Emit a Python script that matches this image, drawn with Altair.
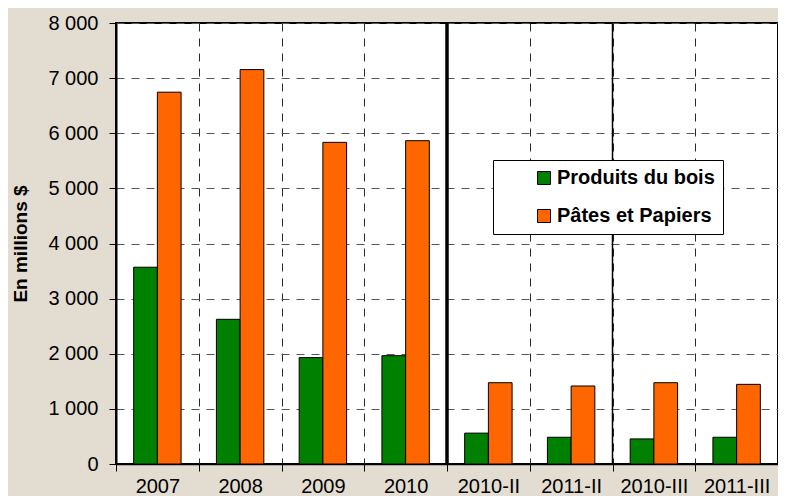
import altair as alt
import pandas as pd

categories = ["2007", "2008", "2009", "2010", "2010-II", "2011-II", "2010-III", "2011-III"]
series = ["Produits du bois", "Pâtes et Papiers"]
bois = [3570, 2625, 1930, 1965, 560, 485, 455, 485]
papiers = [6745, 7155, 5835, 5865, 1475, 1415, 1475, 1445]
colors = ["#008000", "#FF6600"]
y_ticks = [0, 1000, 2000, 3000, 4000, 5000, 6000, 7000, 8000]
separators = ["2010-II", "2010-III"]
separator_widths = [3.5, 1.5]

rows = []
for i, c in enumerate(categories):
    rows.append({"cat": c, "serie": series[0], "val": bois[i]})
    rows.append({"cat": c, "serie": series[1], "val": papiers[i]})
df = pd.DataFrame(rows)
sep_df = pd.DataFrame({"cat": separators, "w": separator_widths})

FONT = "Liberation Sans"
W = 662

x_scale = alt.Scale(domain=categories, paddingInner=0, paddingOuter=0)

bars = alt.Chart(df).mark_bar(stroke="black", strokeWidth=1).encode(
    x=alt.X("cat:N", scale=x_scale, sort=categories, title=None,
            axis=alt.Axis(tickBand="extent", labelAngle=0, grid=True,
                          gridDash=[8, 7], gridColor="#2a2a2a", gridWidth=1,
                          domainColor="black", domainWidth=1.5,
                          tickColor="black", tickSize=7, tickWidth=1,
                          labelAlign="center",
                          labelFlush=False, labelBound=False, labelOverlap=False,
                          labelFont=FONT, labelFontSize=20, labelColor="black",
                          labelPadding=15)),
    xOffset=alt.XOffset("serie:N", sort=series,
                        scale=alt.Scale(domain=series, paddingInner=0, paddingOuter=0.745)),
    y=alt.Y("val:Q", title="En millions $",
            scale=alt.Scale(domain=[0, 8000], nice=False),
            axis=alt.Axis(values=y_ticks, grid=True, gridDash=[8, 7],
                          gridColor="#555555", gridWidth=1,
                          domainColor="black", domainWidth=2,
                          tickColor="black", tickSize=7, tickWidth=1,
                          labelFont=FONT, labelFontSize=20, labelColor="black",
                          labelPadding=11,
                          labelExpr="replace(format(datum.value, ','), ',', ' ')",
                          titleFont=FONT, titleFontSize=19, titleFontWeight="bold",
                          titleColor="black", titlePadding=17)),
    color=alt.Color("serie:N", sort=series,
                    scale=alt.Scale(domain=series, range=colors),
                    legend=alt.Legend(title=".", titleOrient="right", titleColor="white",
                                      titleFont=FONT, titleFontSize=14, titlePadding=-8,
                                      orient="none", legendX=377, legendY=137,
                                      fillColor="white", strokeColor="black",
                                      padding=8, rowPadding=18,
                                      symbolType="square", symbolSize=169,
                                      symbolStrokeColor="black", symbolStrokeWidth=1,
                                      symbolOffset=33, labelOffset=3,
                                      labelFont=FONT, labelFontSize=20,
                                      labelFontWeight="bold", labelColor="black")),
)

seps = alt.Chart(sep_df).mark_rule(color="black").encode(
    x=alt.X("cat:N", scale=x_scale, sort=categories, bandPosition=0),
    strokeWidth=alt.StrokeWidth("w:Q", scale=None, legend=None),
)

chart = alt.layer(seps, bars).properties(
    width=W,
    height=441,
    background="#e2dcd1",
    autosize=alt.AutoSizeParams(type="none"),
    padding={"left": 108, "top": 15, "right": 0, "bottom": 32},
).configure_view(
    fill="white", stroke="black", strokeWidth=2
)

chart.save("out.html", embed_options={"renderer": "svg", "actions": False})
